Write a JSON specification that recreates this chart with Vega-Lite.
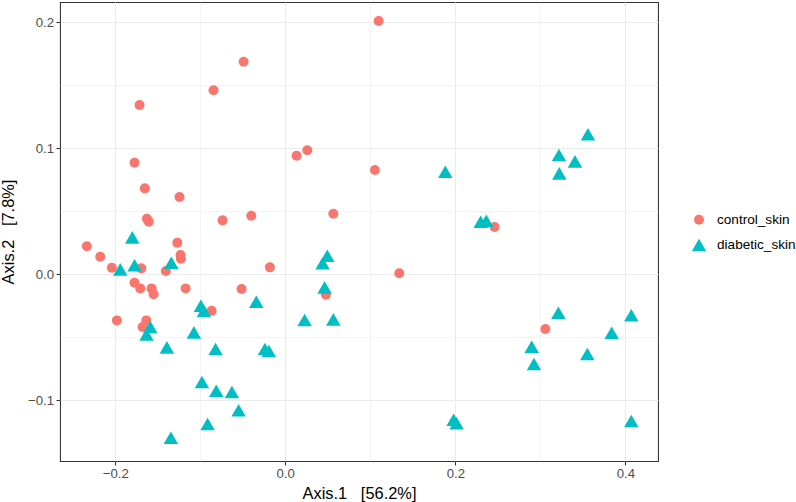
{
  "$schema": "https://vega.github.io/schema/vega-lite/v6.json",
  "autosize": "none",
  "width": 598,
  "height": 459,
  "padding": {"left": 60, "top": 2, "right": 138, "bottom": 41},
  "background": "white",
  "config": {
    "font": "Liberation Sans",
    "view": {"stroke": "#333333", "strokeWidth": 1.07},
    "axis": {
      "domain": false,
      "gridColor": "#EBEBEB",
      "tickColor": "#333333",
      "tickSize": 4,
      "tickWidth": 1.07,
      "labelColor": "#4D4D4D",
      "labelFont": "Liberation Sans",
      "labelFontSize": 13.2,
      "labelPadding": 2.5,
      "titleFont": "Liberation Sans",
      "titleFontSize": 16.4,
      "titleFontWeight": "normal",
      "titleColor": "#000000"
    },
    "legend": {
      "labelFont": "Liberation Sans",
      "labelFontSize": 13.6,
      "labelColor": "#000000"
    }
  },
  "data": {
    "values": [
      {"x": -0.049, "y": 0.1685, "group": "control_skin"},
      {"x": -0.0844, "y": 0.1458, "group": "control_skin"},
      {"x": -0.1714, "y": 0.1341, "group": "control_skin"},
      {"x": -0.1773, "y": 0.0883, "group": "control_skin"},
      {"x": -0.1652, "y": 0.068, "group": "control_skin"},
      {"x": -0.1244, "y": 0.0611, "group": "control_skin"},
      {"x": 0.0133, "y": 0.0939, "group": "control_skin"},
      {"x": 0.0259, "y": 0.0982, "group": "control_skin"},
      {"x": -0.1628, "y": 0.0439, "group": "control_skin"},
      {"x": -0.1605, "y": 0.0415, "group": "control_skin"},
      {"x": -0.0738, "y": 0.0426, "group": "control_skin"},
      {"x": -0.04, "y": 0.0463, "group": "control_skin"},
      {"x": 0.0565, "y": 0.0479, "group": "control_skin"},
      {"x": 0.1098, "y": 0.2008, "group": "control_skin"},
      {"x": 0.1054, "y": 0.0825, "group": "control_skin"},
      {"x": 0.2462, "y": 0.0373, "group": "control_skin"},
      {"x": 0.1341, "y": 0.0006, "group": "control_skin"},
      {"x": 0.3059, "y": -0.0437, "group": "control_skin"},
      {"x": -0.2334, "y": 0.022, "group": "control_skin"},
      {"x": -0.2177, "y": 0.0137, "group": "control_skin"},
      {"x": -0.204, "y": 0.005, "group": "control_skin"},
      {"x": -0.1694, "y": 0.0045, "group": "control_skin"},
      {"x": -0.127, "y": 0.0249, "group": "control_skin"},
      {"x": -0.1232, "y": 0.0151, "group": "control_skin"},
      {"x": -0.1228, "y": 0.0122, "group": "control_skin"},
      {"x": -0.1405, "y": 0.0024, "group": "control_skin"},
      {"x": -0.0181, "y": 0.0053, "group": "control_skin"},
      {"x": -0.1773, "y": -0.0069, "group": "control_skin"},
      {"x": -0.1706, "y": -0.0114, "group": "control_skin"},
      {"x": -0.1573, "y": -0.0114, "group": "control_skin"},
      {"x": -0.1549, "y": -0.0161, "group": "control_skin"},
      {"x": -0.1173, "y": -0.0114, "group": "control_skin"},
      {"x": -0.0514, "y": -0.0119, "group": "control_skin"},
      {"x": 0.0478, "y": -0.0164, "group": "control_skin"},
      {"x": -0.0867, "y": -0.0291, "group": "control_skin"},
      {"x": -0.1981, "y": -0.0368, "group": "control_skin"},
      {"x": -0.1635, "y": -0.0368, "group": "control_skin"},
      {"x": -0.1679, "y": -0.0421, "group": "control_skin"},
      {"x": 0.1882, "y": 0.0812, "group": "diabetic_skin"},
      {"x": 0.356, "y": 0.1109, "group": "diabetic_skin"},
      {"x": 0.3219, "y": 0.0944, "group": "diabetic_skin"},
      {"x": 0.3407, "y": 0.0894, "group": "diabetic_skin"},
      {"x": 0.3223, "y": 0.0799, "group": "diabetic_skin"},
      {"x": 0.2298, "y": 0.0415, "group": "diabetic_skin"},
      {"x": 0.2364, "y": 0.0423, "group": "diabetic_skin"},
      {"x": 0.3212, "y": -0.0307, "group": "diabetic_skin"},
      {"x": 0.407, "y": -0.0328, "group": "diabetic_skin"},
      {"x": 0.3839, "y": -0.0466, "group": "diabetic_skin"},
      {"x": 0.2898, "y": -0.0577, "group": "diabetic_skin"},
      {"x": 0.2925, "y": -0.0714, "group": "diabetic_skin"},
      {"x": 0.3553, "y": -0.0635, "group": "diabetic_skin"},
      {"x": 0.198, "y": -0.1156, "group": "diabetic_skin"},
      {"x": 0.2015, "y": -0.1185, "group": "diabetic_skin"},
      {"x": 0.407, "y": -0.1167, "group": "diabetic_skin"},
      {"x": -0.18, "y": 0.0291, "group": "diabetic_skin"},
      {"x": -0.1941, "y": 0.0037, "group": "diabetic_skin"},
      {"x": -0.1773, "y": 0.0069, "group": "diabetic_skin"},
      {"x": -0.1341, "y": 0.009, "group": "diabetic_skin"},
      {"x": 0.0439, "y": 0.0085, "group": "diabetic_skin"},
      {"x": 0.0494, "y": 0.0145, "group": "diabetic_skin"},
      {"x": 0.0462, "y": -0.0106, "group": "diabetic_skin"},
      {"x": -0.0341, "y": -0.022, "group": "diabetic_skin"},
      {"x": -0.0993, "y": -0.0252, "group": "diabetic_skin"},
      {"x": -0.0958, "y": -0.0294, "group": "diabetic_skin"},
      {"x": 0.0227, "y": -0.0365, "group": "diabetic_skin"},
      {"x": 0.0565, "y": -0.036, "group": "diabetic_skin"},
      {"x": -0.1588, "y": -0.0421, "group": "diabetic_skin"},
      {"x": -0.1632, "y": -0.0479, "group": "diabetic_skin"},
      {"x": -0.1075, "y": -0.0463, "group": "diabetic_skin"},
      {"x": -0.1393, "y": -0.0582, "group": "diabetic_skin"},
      {"x": -0.082, "y": -0.0595, "group": "diabetic_skin"},
      {"x": -0.024, "y": -0.0595, "group": "diabetic_skin"},
      {"x": -0.0193, "y": -0.0611, "group": "diabetic_skin"},
      {"x": -0.0981, "y": -0.0857, "group": "diabetic_skin"},
      {"x": -0.0812, "y": -0.0926, "group": "diabetic_skin"},
      {"x": -0.0628, "y": -0.0937, "group": "diabetic_skin"},
      {"x": -0.0549, "y": -0.1082, "group": "diabetic_skin"},
      {"x": -0.0914, "y": -0.119, "group": "diabetic_skin"},
      {"x": -0.1346, "y": -0.1299, "group": "diabetic_skin"}
    ]
  },
  "mark": {"type": "point", "filled": true, "opacity": 1, "strokeWidth": 0},
  "encoding": {
    "x": {
      "field": "x",
      "type": "quantitative",
      "scale": {"domain": [-0.265, 0.4384], "nice": false, "zero": false},
      "axis": {
        "title": "Axis.1\u00a0\u00a0\u00a0[56.2%]",
        "values": [-0.2, -0.1, 0, 0.1, 0.2, 0.3, 0.4],
        "format": ".1f",
        "labelExpr": "abs(round(datum.value*10)) % 2 === 0 ? datum.label : ''",
        "tickOpacity": {"condition": {"test": "abs(round(datum.value*10)) % 2 === 0", "value": 1}, "value": 0},
        "gridWidth": {"condition": {"test": "abs(round(datum.value*10)) % 2 === 0", "value": 1.07}, "value": 0.55},
        "titleY": 32,
        "titleBaseline": "middle"
      }
    },
    "y": {
      "field": "y",
      "type": "quantitative",
      "scale": {"domain": [-0.1484, 0.2159], "nice": false, "zero": false},
      "axis": {
        "title": "Axis.2\u00a0\u00a0\u00a0[7.8%]",
        "values": [-0.1, -0.05, 0, 0.05, 0.1, 0.15, 0.2],
        "format": ".1f",
        "labelExpr": "abs(round(datum.value*20)) % 2 === 0 ? datum.label : ''",
        "tickOpacity": {"condition": {"test": "abs(round(datum.value*20)) % 2 === 0", "value": 1}, "value": 0},
        "gridWidth": {"condition": {"test": "abs(round(datum.value*20)) % 2 === 0", "value": 1.07}, "value": 0.55},
        "titleX": -52,
        "titleBaseline": "middle"
      }
    },
    "color": {
      "field": "group",
      "type": "nominal",
      "scale": {"domain": ["control_skin", "diabetic_skin"], "range": ["#F8766D", "#00BFC4"]},
      "legend": {
        "title": null,
        "orient": "none",
        "legendX": 631,
        "legendY": 211,
        "padding": 0,
        "rowPadding": 10,
        "labelOffset": 10,
        "symbolType": "circle"
      }
    },
    "shape": {
      "field": "group",
      "type": "nominal",
      "scale": {"domain": ["control_skin", "diabetic_skin"], "range": ["circle", "triangle-up"]}
    },
    "size": {
      "field": "group",
      "type": "nominal",
      "scale": {"domain": ["control_skin", "diabetic_skin"], "range": [100, 210]}
    }
  }
}
